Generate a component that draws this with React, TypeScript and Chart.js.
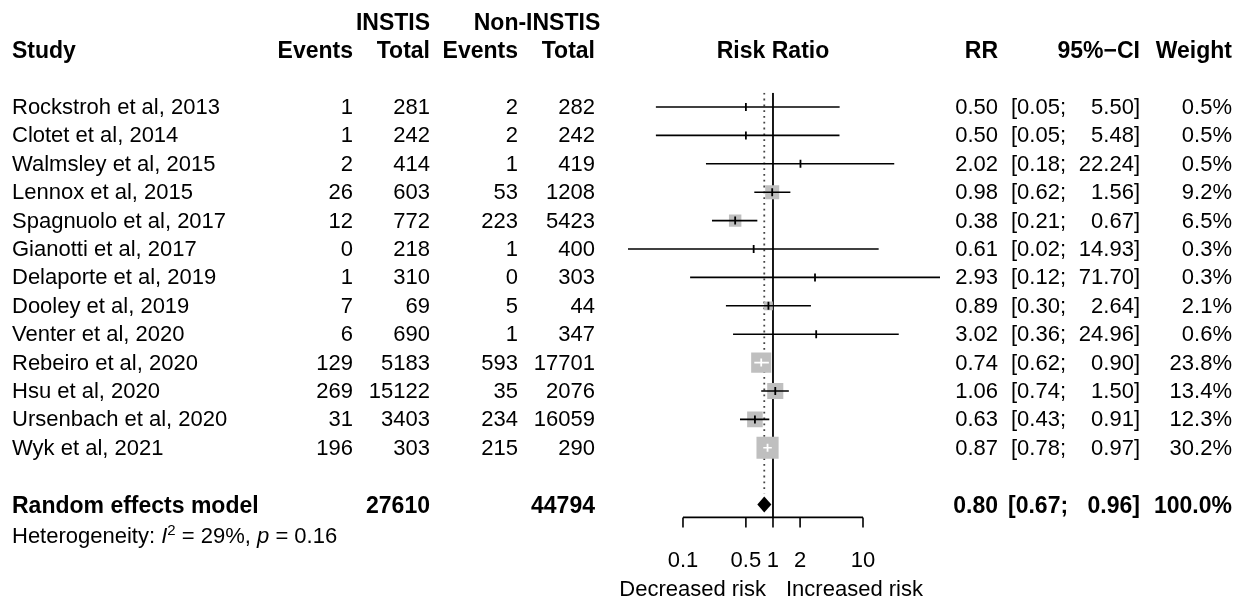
import { useEffect, useRef } from "react";
import { Chart, registerables } from "chart.js";

Chart.register(...registerables);

const studies = [
  "Rockstroh et al, 2013", "Clotet et al, 2014", "Walmsley et al, 2015", "Lennox et al, 2015",
  "Spagnuolo et al, 2017", "Gianotti et al, 2017", "Delaporte et al, 2019", "Dooley et al, 2019",
  "Venter et al, 2020", "Rebeiro et al, 2020", "Hsu et al, 2020", "Ursenbach et al, 2020", "Wyk et al, 2021",
];
const instisEvents = [1, 1, 2, 26, 12, 0, 1, 7, 6, 129, 269, 31, 196];
const instisTotal = [281, 242, 414, 603, 772, 218, 310, 69, 690, 5183, 15122, 3403, 303];
const nonEvents = [2, 2, 1, 53, 223, 1, 0, 5, 1, 593, 35, 234, 215];
const nonTotal = [282, 242, 419, 1208, 5423, 400, 303, 44, 347, 17701, 2076, 16059, 290];
const rr = [0.5, 0.5, 2.02, 0.98, 0.38, 0.61, 2.93, 0.89, 3.02, 0.74, 1.06, 0.63, 0.87];
const lower = [0.05, 0.05, 0.18, 0.62, 0.21, 0.02, 0.12, 0.3, 0.36, 0.62, 0.74, 0.43, 0.78];
const upper = [5.5, 5.48, 22.24, 1.56, 0.67, 14.93, 71.7, 2.64, 24.96, 0.9, 1.5, 0.91, 0.97];
const weight = [0.5, 0.5, 0.5, 9.2, 6.5, 0.3, 0.3, 2.1, 0.6, 23.8, 13.4, 12.3, 30.2];
const pooled = { rr: 0.8, lower: 0.67, upper: 0.96, weight: 100.0, instisTotal: 27610, nonTotal: 44794 };
const axisTicks = [0.1, 0.5, 1, 2, 10];

const FONT = "Arial, 'Liberation Sans', Helvetica, sans-serif";
const FS = 22;
const BFS = 23;
const ROW0 = 107;
const STEP = 28.4;
const SUMMARY_ROW = 14;
const PX_PER_DECADE = 90;
const rowY = (i: number) => ROW0 + STEP * i;
const side = (w: number) => (w < 1 ? 0 : 3.3 * Math.sqrt(w) + 4);

const forestPlugin = {
  id: "forestAxis",
  afterDatasetsDraw(chart: any) {
    const { ctx, scales, chartArea } = chart;
    const x = scales.x;
    const y = scales.y;
    ctx.save();
    // diamond
    const yc = y.getPixelForValue(SUMMARY_ROW);
    ctx.fillStyle = "#000";
    ctx.beginPath();
    ctx.moveTo(x.getPixelForValue(pooled.lower), yc);
    ctx.lineTo(x.getPixelForValue(pooled.rr), yc - 8);
    ctx.lineTo(x.getPixelForValue(pooled.upper), yc);
    ctx.lineTo(x.getPixelForValue(pooled.rr), yc + 8);
    ctx.closePath();
    ctx.fill();
    // axis
    const yb = chartArea.bottom;
    ctx.strokeStyle = "#000";
    ctx.lineWidth = 1.6;
    ctx.beginPath();
    ctx.moveTo(x.getPixelForValue(axisTicks[0]), yb);
    ctx.lineTo(x.getPixelForValue(axisTicks[axisTicks.length - 1]), yb);
    axisTicks.forEach((t) => {
      const px = x.getPixelForValue(t);
      ctx.moveTo(px, yb);
      ctx.lineTo(px, yb + 10);
    });
    ctx.stroke();
    ctx.font = `${FS}px ${FONT}`;
    ctx.textAlign = "center";
    ctx.textBaseline = "middle";
    axisTicks.forEach((t) => ctx.fillText(String(t), x.getPixelForValue(t), 561));
    ctx.restore();
  },
};

function Txt({ x, y, children, align = "right", bold = false, size, style = {} }: any) {
  const tr = align === "right" ? "translate(-100%,-50%)" : align === "center" ? "translate(-50%,-50%)" : "translate(0,-50%)";
  return (
    <div
      style={{
        position: "absolute", left: x, top: y, transform: tr, whiteSpace: "pre",
        fontFamily: FONT, fontSize: size ?? (bold ? BFS : FS), fontWeight: bold ? "bold" : "normal",
        color: "#000", lineHeight: 1, ...style,
      }}
    >
      {children}
    </div>
  );
}

export default function App() {
  const ref = useRef<HTMLCanvasElement>(null);

  useEffect(() => {
    if (!ref.current) return;
    const ciWhite = studies.map((_, i) => PX_PER_DECADE * Math.log10(upper[i] / lower[i]) < side(weight[i]));
    const ciSets = studies.map((_, i) => ({
      type: "line" as const,
      data: [{ x: lower[i], y: i }, { x: upper[i], y: i }],
      borderColor: ciWhite[i] ? "#fff" : "#000",
      borderWidth: 1.6,
      pointRadius: 0,
      order: 1,
    }));
    const chart = new Chart(ref.current, {
      type: "scatter",
      data: {
        datasets: [
          {
            type: "line",
            data: [{ x: 1, y: -0.5 }, { x: 1, y: 14.45 }],
            borderColor: "#000", borderWidth: 1.8, pointRadius: 0, order: 5,
          },
          {
            type: "line",
            data: [{ x: pooled.rr, y: -0.5 }, { x: pooled.rr, y: 13.6 }],
            borderColor: "#444", borderWidth: 1.8, borderDash: [1.8, 4], pointRadius: 0, order: 4,
          },
          {
            data: rr.map((v, i) => ({ x: v, y: i })),
            pointStyle: "rect",
            pointRadius: weight.map((w) => side(w) / Math.SQRT2),
            backgroundColor: "#bfbfbf", borderWidth: 0, order: 3,
          },
          ...ciSets,
          {
            data: rr.map((v, i) => ({ x: v, y: i })),
            pointStyle: "line", rotation: 90, pointRadius: 4,
            borderColor: ciWhite.map((w) => (w ? "#fff" : "#000")), borderWidth: 1.8, order: 0,
          },
        ] as any,
      },
      options: {
        animation: false,
        responsive: false,
        events: [],
        layout: { padding: { left: 628, right: 295, top: ROW0 - STEP * 0.5, bottom: 600 - rowY(14.45) } },
        plugins: { legend: { display: false }, tooltip: { enabled: false } },
        scales: {
          x: { type: "logarithmic", display: false, min: 0.0245, max: 71.7 },
          y: { type: "linear", display: false, min: -0.5, max: 14.45, reverse: true },
        },
      },
      plugins: [forestPlugin],
    });
    return () => chart.destroy();
  }, []);

  const fmt = (v: number) => v.toFixed(2);
  return (
    <div style={{ position: "fixed", left: 0, top: 0, width: 1235, height: 600, background: "#fff", overflow: "hidden" }}>
      <canvas ref={ref} width={1235} height={600} style={{ position: "absolute", left: 0, top: 0 }} />
      <Txt x={393} y={22} align="center" bold>INSTIS</Txt>
      <Txt x={537} y={22} align="center" bold>Non-INSTIS</Txt>
      <Txt x={12} y={50} align="left" bold>Study</Txt>
      <Txt x={353} y={50} bold>Events</Txt>
      <Txt x={430} y={50} bold>Total</Txt>
      <Txt x={518} y={50} bold>Events</Txt>
      <Txt x={595} y={50} bold>Total</Txt>
      <Txt x={773} y={50} align="center" bold>Risk Ratio</Txt>
      <Txt x={998} y={50} bold>RR</Txt>
      <Txt x={1140} y={50} bold>95%−CI</Txt>
      <Txt x={1232} y={50} bold>Weight</Txt>
      {studies.map((s, i) => (
        <div key={s}>
          <Txt x={12} y={rowY(i)} align="left">{s}</Txt>
          <Txt x={353} y={rowY(i)}>{instisEvents[i]}</Txt>
          <Txt x={430} y={rowY(i)}>{instisTotal[i]}</Txt>
          <Txt x={518} y={rowY(i)}>{nonEvents[i]}</Txt>
          <Txt x={595} y={rowY(i)}>{nonTotal[i]}</Txt>
          <Txt x={998} y={rowY(i)}>{fmt(rr[i])}</Txt>
          <Txt x={1011} y={rowY(i)} align="left">{`[${fmt(lower[i])};`}</Txt>
          <Txt x={1140} y={rowY(i)}>{`${fmt(upper[i])}]`}</Txt>
          <Txt x={1232} y={rowY(i)}>{`${weight[i].toFixed(1)}%`}</Txt>
        </div>
      ))}
      <Txt x={12} y={rowY(SUMMARY_ROW)} align="left" bold>Random effects model</Txt>
      <Txt x={430} y={rowY(SUMMARY_ROW)} bold>{pooled.instisTotal}</Txt>
      <Txt x={595} y={rowY(SUMMARY_ROW)} bold>{pooled.nonTotal}</Txt>
      <Txt x={998} y={rowY(SUMMARY_ROW)} bold>{fmt(pooled.rr)}</Txt>
      <Txt x={1008} y={rowY(SUMMARY_ROW)} align="left" bold>{`[${fmt(pooled.lower)};`}</Txt>
      <Txt x={1140} y={rowY(SUMMARY_ROW)} bold>{`${fmt(pooled.upper)}]`}</Txt>
      <Txt x={1232} y={rowY(SUMMARY_ROW)} bold>{`${pooled.weight.toFixed(1)}%`}</Txt>
      <Txt x={12} y={534} align="left" size={22}>
        Heterogeneity: <i>I</i><sup style={{ fontSize: 15, verticalAlign: 8 }}>2</sup> = 29%, <i>p</i> = 0.16
      </Txt>
      <Txt x={766} y={589}>Decreased risk</Txt>
      <Txt x={786} y={589} align="left">Increased risk</Txt>
    </div>
  );
}
